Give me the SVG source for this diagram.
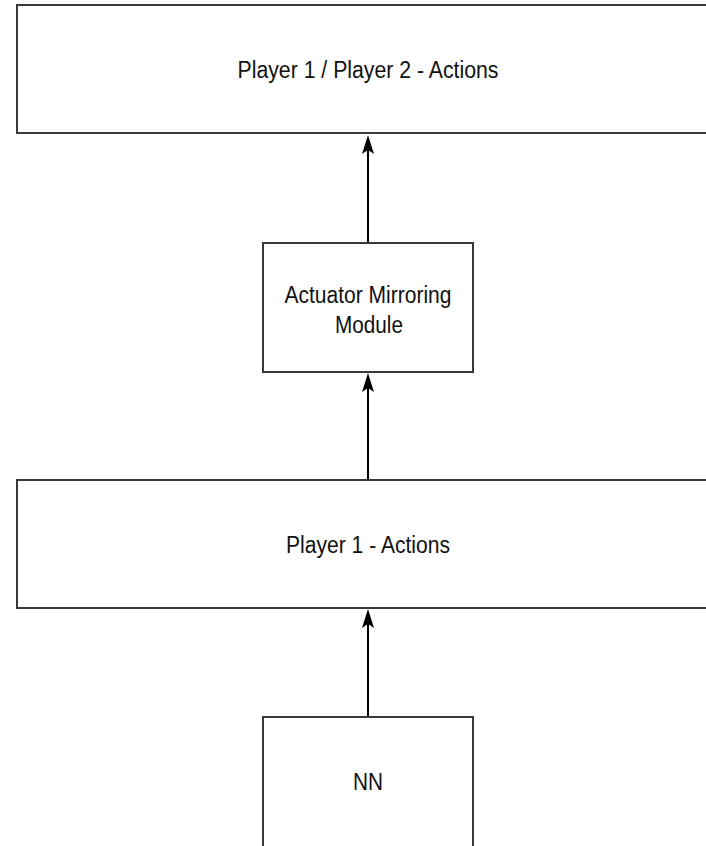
<svg xmlns="http://www.w3.org/2000/svg" width="706" height="846" viewBox="0 0 706 846">
  <style>
    .box { fill: #ffffff; stroke: #3a3a3a; stroke-width: 2; }
    .lbl { font-family: "Liberation Sans", Arial, sans-serif; font-size: 23px; fill: #111111; text-anchor: middle; }
    .edge { fill: none; stroke: #000000; stroke-width: 2; }
    .head { fill: #000000; }
  </style>
  <rect width="706" height="846" fill="#ffffff"/>

  <g id="connectors">
    <!-- Actuator Mirroring Module -> Player 1 / Player 2 - Actions -->
    <path class="edge" d="M368 242 L368 150"/>
    <path class="head" d="M368 135 L374 154 L368 150 L362 154 Z"/>
    <!-- Player 1 - Actions -> Actuator Mirroring Module -->
    <path class="edge" d="M368 480 L368 388"/>
    <path class="head" d="M368 373 L374 392 L368 388 L362 392 Z"/>
    <!-- NN -> Player 1 - Actions -->
    <path class="edge" d="M368 716 L368 624"/>
    <path class="head" d="M368 609 L374 628 L368 624 L362 628 Z"/>
  </g>

  <g id="node-p1p2-actions">
    <rect class="box" x="17" y="5" width="700" height="128"/>
    <text class="lbl" x="368" y="78" textLength="261" lengthAdjust="spacingAndGlyphs">Player 1 / Player 2 - Actions</text>
  </g>

  <g id="node-actuator-mirroring">
    <rect class="box" x="263" y="243" width="210" height="129"/>
    <text class="lbl" x="368" y="303" textLength="167" lengthAdjust="spacingAndGlyphs">Actuator Mirroring</text>
    <text class="lbl" x="369" y="333" textLength="68" lengthAdjust="spacingAndGlyphs">Module</text>
  </g>

  <g id="node-p1-actions">
    <rect class="box" x="17" y="480" width="700" height="128"/>
    <text class="lbl" x="368" y="553" textLength="164" lengthAdjust="spacingAndGlyphs">Player 1 - Actions</text>
  </g>

  <g id="node-nn">
    <rect class="box" x="263" y="717" width="210" height="140"/>
    <text class="lbl" x="368" y="790" textLength="30" lengthAdjust="spacingAndGlyphs">NN</text>
  </g>
</svg>
